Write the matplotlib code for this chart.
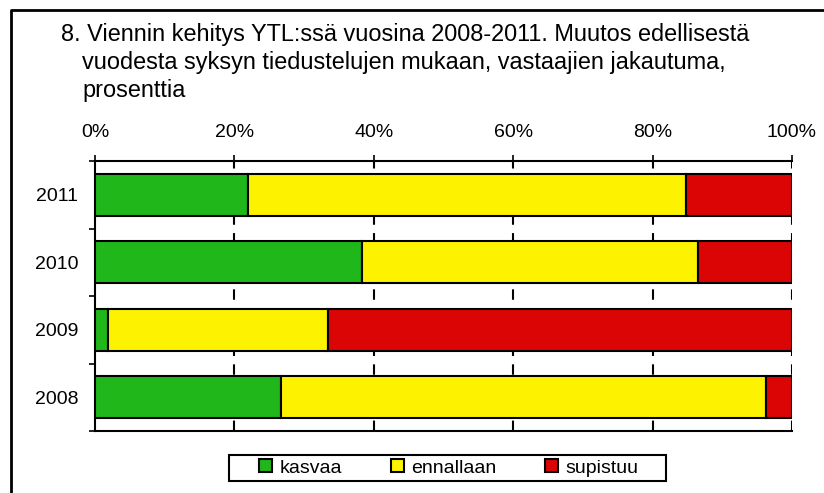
import numpy as np
import matplotlib.pyplot as plt
from matplotlib.lines import Line2D

plt.rcParams['font.family'] = ['Liberation Sans', 'DejaVu Sans']

years = ['2008', '2009', '2010', '2011']
kasvaa = [26.7, 1.9, 38.3, 21.9]
ennallaan = [69.6, 31.5, 48.2, 62.9]
supistuu = [3.7, 66.6, 13.5, 15.2]
labels = ['kasvaa', 'ennallaan', 'supistuu']
colors = ['#1fb71a', '#fdf300', '#dc0505']

W, H = 824, 493
fig = plt.figure(figsize=(W / 100, H / 100), dpi=100)
ax = fig.add_axes([95 / W, 1 - 431 / H, 697 / W, 270 / H])

y = np.arange(len(years))
left = np.zeros(len(years))
for vals, lab, col in zip([kasvaa, ennallaan, supistuu], labels, colors):
    ax.barh(y, vals, left=left, height=0.62, color=col, edgecolor='black',
            linewidth=1.5, label=lab, zorder=3)
    left = left + np.array(vals)

ax.set_xlim(0, 100)
ax.set_ylim(-0.5, 3.5)
ax.set_xticks([0, 20, 40, 60, 80, 100])
ax.set_xticklabels(['0%', '20%', '40%', '60%', '80%', '100%'], fontsize=14)
ax.xaxis.tick_top()
ax.tick_params(axis='x', direction='out', length=4.5, width=1.2, pad=10)
ax.set_yticks(y)
ax.set_yticklabels(years, fontsize=14)
ax.set_yticks(np.arange(-0.5, 4, 1), minor=True)
ax.tick_params(axis='y', which='major', length=0, pad=12)
ax.tick_params(axis='y', which='minor', direction='out', length=4.5, width=1.2)

# katkoviivat 20 %:n välein
for gx in [20, 40, 60, 80, 100]:
    ax.axvline(gx, color='black', linestyle=(0, (5, 4)), linewidth=1.5, zorder=1)

ax.spines['right'].set_visible(False)
for s in ['top', 'left', 'bottom']:
    ax.spines[s].set_linewidth(1.5)

# otsikko
fig.text(61 / W, 1 - 35 / H, '8. Viennin kehitys YTL:ssä vuosina 2008-2011. Muutos edellisestä',
         fontsize=16.9, va='center', ha='left')
fig.text(82 / W, 1 - 62 / H, 'vuodesta syksyn tiedustelujen mukaan, vastaajien jakautuma,',
         fontsize=16.9, va='center', ha='left')
fig.text(82 / W, 1 - 90 / H, 'prosenttia', fontsize=16.9, va='center', ha='left')

# selite
fig.legend(loc='center', bbox_to_anchor=(449 / W, 1 - 468 / H), ncol=3,
           fontsize=14, frameon=False,
           handlelength=0.65, handleheight=0.65, handletextpad=0.4,
           columnspacing=2.5, borderpad=0, borderaxespad=0)
fig.patches.append(plt.Rectangle((229 / W, 1 - 481 / H), 437 / W, 26 / H,
                                 transform=fig.transFigure, fill=False,
                                 edgecolor='black', linewidth=1.5))

# kehys
fig.lines.append(Line2D([11 / W, 11 / W, 1], [0, 1 - 10 / H, 1 - 10 / H],
                        transform=fig.transFigure, color='black', linewidth=2))

fig.savefig('out.png', dpi=100)
